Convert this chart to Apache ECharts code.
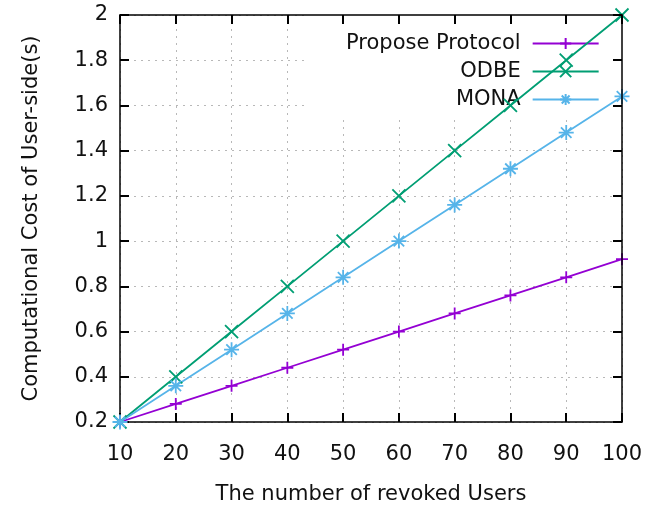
<!DOCTYPE html>
<html>
<head>
<meta charset="utf-8">
<script src="https://cdn.jsdelivr.net/npm/echarts@6/dist/echarts.min.js"></script>
<style>html,body{margin:0;padding:0;background:#fff}#c{width:661px;height:508px}</style>
</head>
<body>
<div id="c"></div>
<script>
const xValues = [10, 20, 30, 40, 50, 60, 70, 80, 90, 100];
const proposeProtocol = [0.2, 0.28, 0.36, 0.44, 0.52, 0.60, 0.68, 0.76, 0.84, 0.92];
const odbe = [0.2, 0.4, 0.6, 0.8, 1.0, 1.2, 1.4, 1.6, 1.8, 2.0];
const mona = [0.2, 0.36, 0.52, 0.68, 0.84, 1.0, 1.16, 1.32, 1.48, 1.64];
const seriesNames = ['Propose Protocol', 'ODBE', 'MONA'];
const xTitle = 'The number of revoked Users';
const yTitle = 'Computational Cost of User-side(s)';

const FONT = 'DejaVu Sans';
const FS = 21;
const pair = (ys) => xValues.map((x, i) => [x, ys[i]]);
const SYM_PLUS = 'path://M0,5L10,5M5,0L5,10';
const SYM_CROSS = 'path://M0,0L10,10M10,0L0,10';
const SYM_STAR = 'path://M0,5L10,5M5,0L5,10M1.5,1.5L8.5,8.5M8.5,1.5L1.5,8.5';

function mkSeries(name, ys, color, sym, size) {
  return {
    name: name, type: 'line', data: pair(ys), z: 2,
    xAxisIndex: 0, yAxisIndex: 0,
    symbol: sym, symbolSize: size, showAllSymbol: true,
    lineStyle: { color: color, width: 1.8 },
    itemStyle: { color: color, borderColor: color, borderWidth: 1.8 },
    emphasis: { disabled: true }, animation: false
  };
}

const chart = echarts.init(document.getElementById('c'), null, { renderer: 'canvas' });
const gridLine = { show: true, lineStyle: { color: '#b8b8b8', width: 1, type: [2, 5] } };
chart.setOption({
  animation: false,
  backgroundColor: '#fff',
  grid: { left: 120, right: 39, top: 15, bottom: 86, containLabel: false, outerBoundsMode: 'none' },
  legend: {
    data: seriesNames, orient: 'vertical', align: 'right',
    left: 308, top: 15, z: 1,
    padding: [18, 24, 6, 38], backgroundColor: '#fff',
    itemWidth: 66, itemHeight: 14, itemGap: 7,
    selectedMode: false,
    formatter: (n) => '{a|' + n + '}',
    textStyle: { rich: { a: { align: 'right', lineHeight: 22, padding: [0, 7, 0, 0], fontFamily: FONT, fontSize: FS, color: '#111' } } }
  },
  xAxis: [{
    type: 'value', min: 10, max: 100, interval: 10, position: 'bottom', z: 0,
    name: xTitle, nameLocation: 'middle', nameGap: 62,
    nameTextStyle: { fontFamily: FONT, fontSize: FS, color: '#111' },
    axisLine: { show: true, lineStyle: { color: '#000', width: 1.5 } },
    axisTick: { show: true, inside: true, length: 9, lineStyle: { color: '#000', width: 2 } },
    axisLabel: { margin: 22, fontFamily: FONT, fontSize: FS, color: '#111' },
    splitLine: gridLine
  }, {
    type: 'value', min: 10, max: 100, interval: 10, position: 'top', z: 3,
    axisLine: { show: true, lineStyle: { color: '#000', width: 1.5 } },
    axisTick: { show: true, inside: true, length: 9, lineStyle: { color: '#000', width: 2 } },
    axisLabel: { show: false }, splitLine: { show: false }
  }],
  yAxis: [{
    type: 'value', min: 0.2, max: 2, interval: 0.2, position: 'left', z: 0,
    name: yTitle, nameLocation: 'middle', nameGap: 78, nameRotate: 90,
    nameTextStyle: { fontFamily: FONT, fontSize: FS, color: '#111' },
    axisLine: { show: true, lineStyle: { color: '#000', width: 1.5 } },
    axisTick: { show: true, inside: true, length: 9, lineStyle: { color: '#000', width: 2 } },
    axisLabel: { margin: 12, fontFamily: FONT, fontSize: FS, color: '#111' },
    splitLine: gridLine
  }, {
    type: 'value', min: 0.2, max: 2, interval: 0.2, position: 'right', z: 3,
    axisLine: { show: true, lineStyle: { color: '#000', width: 1.5 } },
    axisTick: { show: true, inside: true, length: 9, lineStyle: { color: '#000', width: 2 } },
    axisLabel: { show: false }, splitLine: { show: false }
  }],
  series: [
    mkSeries(seriesNames[0], proposeProtocol, '#9400d3', SYM_PLUS, 12),
    mkSeries(seriesNames[1], odbe, '#009e73', SYM_CROSS, 13),
    mkSeries(seriesNames[2], mona, '#56b4e9', SYM_STAR, 15)
  ]
});
</script>
</body>
</html>
